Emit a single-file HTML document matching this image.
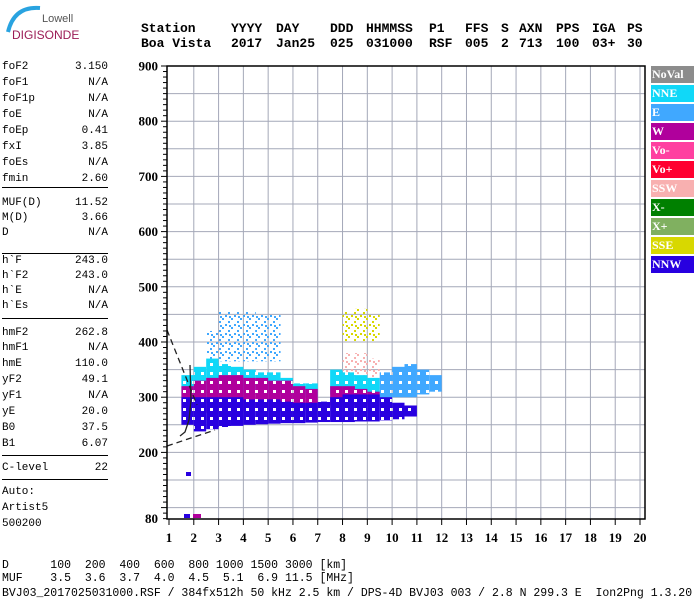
<!DOCTYPE html>
<html><head><meta charset="utf-8"><style>
body{margin:0;width:700px;height:600px;background:#fff;overflow:hidden;position:relative;font-family:"Liberation Mono",monospace;}
.t{position:absolute;white-space:pre;}
.hd{font-weight:bold;font-size:13px;top:21px;}
.hd2{top:36px;}
.lp{position:absolute;left:2px;width:106px;font-size:11px;height:14px;line-height:14px;}
.lp span{position:absolute;right:0;}
.sep{position:absolute;left:2px;width:106px;height:1px;background:#000;}
.bt{position:absolute;left:2px;font-size:11.5px;white-space:pre;line-height:13px;}
.lg{position:absolute;left:651px;width:43px;height:17px;color:#fff;font:bold 12px "Liberation Serif",serif;line-height:17px;padding-left:1px;box-sizing:border-box;}
</style></head><body>
<div>
<svg style="position:absolute;left:0;top:0" width="60" height="50"><path d="M40 8 Q14 6 8 32" stroke="#29a3e0" stroke-width="4" fill="none"/></svg>
<div class="t" style="left:42px;top:13px;font:11px 'Liberation Sans',sans-serif;color:#555">Lowell</div>
<div class="t" style="left:12px;top:28px;font:12px 'Liberation Sans',sans-serif;color:#9b1b55">DIGISONDE</div>
</div>
<div>
<div class="t hd" style="left:141px">Station</div><div class="t hd" style="left:231px">YYYY</div><div class="t hd" style="left:276px">DAY</div><div class="t hd" style="left:330px">DDD</div><div class="t hd" style="left:366px">HHMMSS</div><div class="t hd" style="left:429px">P1</div><div class="t hd" style="left:465px">FFS</div><div class="t hd" style="left:501px">S</div><div class="t hd" style="left:519px">AXN</div><div class="t hd" style="left:556px">PPS</div><div class="t hd" style="left:592px">IGA</div><div class="t hd" style="left:627px">PS</div>
<div class="t hd hd2" style="left:141px">Boa Vista</div><div class="t hd hd2" style="left:231px">2017</div><div class="t hd hd2" style="left:276px">Jan25</div><div class="t hd hd2" style="left:330px">025</div><div class="t hd hd2" style="left:366px">031000</div><div class="t hd hd2" style="left:429px">RSF</div><div class="t hd hd2" style="left:465px">005</div><div class="t hd hd2" style="left:501px">2</div><div class="t hd hd2" style="left:519px">713</div><div class="t hd hd2" style="left:556px">100</div><div class="t hd hd2" style="left:592px">03+</div><div class="t hd hd2" style="left:627px">30</div>
</div>
<div id="left"></div>
<div class="bt" style="top:559px">D      100  200  400  600  800 1000 1500 3000 [km]</div>
<div class="bt" style="top:572px">MUF    3.5  3.6  3.7  4.0  4.5  5.1  6.9 11.5 [MHz]</div>
<div class="bt" style="top:587px">BVJ03_2017025031000.RSF / 384fx512h 50 kHz 2.5 km / DPS-4D BVJ03 003 / 2.8 N 299.3 E  Ion2Png 1.3.20</div>
<div id="legend"></div>
<svg id="chart" style="position:absolute;left:0;top:0" width="700" height="600">
<defs id="defs"></defs>
</svg>
<script>
const params=[["foF2","3.150",67],["foF1","N/A",83],["foF1p","N/A",99],["foE","N/A",115],["foEp","0.41",131],["fxI","3.85",147],["foEs","N/A",163],["fmin","2.60",179],
["MUF(D)","11.52",203],["M(D)","3.66",218],["D","N/A",233],["h`F","243.0",261],["h`F2","243.0",276],["h`E","N/A",291],["h`Es","N/A",306],
["hmF2","262.8",333],["hmF1","N/A",348],["hmE","110.0",364],["yF2","49.1",380],["yF1","N/A",396],["yE","20.0",412],["B0","37.5",428],["B1","6.07",444],
["C-level","22",468],["Auto:","",492],["Artist5","",508],["500200","",524]];
const seps=[187,253,318,455,479];
const L=document.getElementById('left');
params.forEach(p=>{const d=document.createElement('div');d.className='lp';d.style.top=(p[2]-7)+'px';d.textContent=p[0];


if(p[1]){const s=document.createElement('span');s.textContent=p[1];d.appendChild(s);}L.appendChild(d);});
seps.forEach(y=>{const d=document.createElement('div');d.className='sep';d.style.top=y+'px';


L.appendChild(d);});
const legendNames=["NoVal","NNE","E","W","Vo-","Vo+","SSW","X-","X+","SSE","NNW"];
const legendColors=["#8c8c8c","#10d8f8","#40a8ff","#b0009c","#ff40a0","#ff0030","#f8b0b0","#008000","#80b060","#d8d800","#2800e0"];
const LG=document.getElementById('legend');
legendNames.forEach((n,i)=>{const d=document.createElement('div');d.className='lg';d.style.top=(66+i*19)+'px';d.style.background=legendColors[i];d.textContent=n;


LG.appendChild(d);});

// ---- chart data ----
const xTicks=[1,2,3,4,5,6,7,8,9,10,11,12,13,14,15,16,17,18,19,20];
const yTicks=[80,200,300,400,500,600,700,800,900];
const bins=[1.75,2.25,2.75,3.25,3.75,4.25,4.75,5.25,5.75,6.25,6.75,7.25,7.75,8.25,8.75,9.25,9.75,10.25,10.75,11.25,11.75];
const nnwLow =[250,238,242,246,248,250,251,252,253,253,254,255,255,255,256,256,258,260,265,0,0];
const nnwHigh=[300,300,300,300,300,296,296,296,292,290,290,292,300,305,305,305,300,290,285,0,0];
const wLow   =[280,272,272,276,276,276,276,276,276,278,278,0,285,285,285,285,0,0,0,0,0];
const wHigh  =[320,330,335,340,340,335,335,330,330,320,315,0,320,320,315,310,0,0,0,0,0];
const nneLow =[300,300,300,305,305,305,305,305,305,300,300,0,305,305,305,300,0,0,0,0,0];
const nneHigh=[340,355,370,360,355,350,345,345,335,325,325,0,350,345,340,335,0,0,0,0,0];
const eLow   =[0,0,0,0,0,0,0,0,0,0,0,0,0,0,0,0,295,300,300,305,310];
const eHigh  =[0,0,0,0,0,0,0,0,0,0,0,0,0,0,0,0,345,355,360,350,340];
const upLow  =[0,0,360,365,365,365,365,365,0,0,0,0,0,0,0,0,0,0,0,0,0];
const upHigh =[0,0,420,455,455,455,450,450,0,0,0,0,0,0,0,0,0,0,0,0,0];
const sseLow =[0,0,0,0,0,0,0,0,0,0,0,0,0,400,400,400,0,0,0,0,0];
const sseHigh=[0,0,0,0,0,0,0,0,0,0,0,0,0,455,460,450,0,0,0,0,0];
const sswLow =[0,0,0,0,0,0,0,0,0,0,0,0,0,270,265,270,0,0,0,0,0];
const sswHigh=[0,0,0,0,0,0,0,0,0,0,0,0,0,380,380,370,0,0,0,0,0];

const X0=169,XS=24.79,Y0=66,YS=0.552;
const fx=f=>X0+(f-1)*XS;
const hy=h=>Y0+(900-h)*YS;
const svg=document.getElementById('chart');
const defs=document.getElementById('defs');
const NS="http://www.w3.org/2000/svg";
function mk(tag,attrs,name){const e=document.createElementNS(NS,tag);for(const k in attrs)e.setAttribute(k,attrs[k]);


svg.appendChild(e);return e;}
// speckle patterns (texture only)
function pattern(id,color,dense){
  const p=document.createElementNS(NS,'pattern');
  p.setAttribute('id',id);p.setAttribute('width',9);p.setAttribute('height',9);p.setAttribute('patternUnits','userSpaceOnUse');
  const cells=dense?[[0,0],[3,0],[6,3],[0,3],[3,6],[6,6],[0,6],[6,0]]:[[0,0],[6,3],[3,6],[4,1]];
  cells.forEach(c=>{const r=document.createElementNS(NS,'rect');r.setAttribute('x',c[0]);r.setAttribute('y',c[1]);r.setAttribute('width',dense?3:2);r.setAttribute('height',dense?3:2);r.setAttribute('fill',color);p.appendChild(r);});
  defs.appendChild(p);
}
// grid
const grid=document.createElementNS(NS,'g');


svg.appendChild(grid);
for(let f=2;f<=20;f++){const l=document.createElementNS(NS,'line');l.setAttribute('x1',fx(f));l.setAttribute('x2',fx(f));l.setAttribute('y1',hy(900));l.setAttribute('y2',hy(80));l.setAttribute('stroke','#a4a8b8');


grid.appendChild(l);}
for(let h=100;h<900;h+=50){const l=document.createElementNS(NS,'line');l.setAttribute('x1',167);l.setAttribute('x2',645);l.setAttribute('y1',hy(h));l.setAttribute('y2',hy(h));l.setAttribute('stroke','#a4a8b8');


grid.appendChild(l);}
function layer(lo,hi,color,name,dense){
  pattern('p-'+name,color,dense);
  const g=document.createElementNS(NS,'g');
  
  
  svg.appendChild(g);
  bins.forEach((f,i)=>{if(!lo[i]||!hi[i])return;
    const r=document.createElementNS(NS,'rect');
    r.setAttribute('x',fx(f-0.25));r.setAttribute('width',XS*0.5);
    r.setAttribute('y',hy(hi[i]));r.setAttribute('height',hy(lo[i])-hy(hi[i]));
    r.setAttribute('fill','url(#p-'+name+')');
    
    
    g.appendChild(r);});
}
layer(upLow,upHigh,"#40a8ff","upper-echoes",false);
layer(sseLow,sseHigh,"#d8d800","sse-echoes",false);
layer(sswLow,sswHigh,"#f8b0b0","ssw-echoes",false);
layer(nneLow,nneHigh,"#10d8f8","nne-echoes",true);
layer(eLow,eHigh,"#40a8ff","e-echoes",true);
layer(wLow,wHigh,"#b0009c","w-echoes",true);
layer(nnwLow,nnwHigh,"#2800e0","nnw-echoes",true);
mk('polyline',{points:`167,330 197,405`,stroke:'#222','stroke-dasharray':'6,4',fill:'none','stroke-width':1.3},'trace-line-upper');
mk('polyline',{points:`167,446 215,430`,stroke:'#222','stroke-dasharray':'6,4',fill:'none','stroke-width':1.3},'trace-line-lower');
mk('polyline',{points:`190,365 191,400 189,420 185,432 180,436`,stroke:'#222',fill:'none','stroke-width':1.3},'profile-curve');
mk('rect',{x:184,y:514,width:6,height:4,fill:'#2800e0'},'bottom-echo');
mk('rect',{x:193,y:514,width:8,height:4,fill:'#b0009c'},'bottom-echo');
mk('rect',{x:186,y:472,width:5,height:4,fill:'#2800e0'},'low-echo');
mk('rect',{x:167,y:66,width:478,height:453,fill:'none',stroke:'#000','stroke-width':1.5},'plot-frame');
for(let h=80;h<=900;h+=10){const w=(h%100===0)?6:4;mk('line',{x1:167-w,x2:167,y1:hy(h),y2:hy(h),stroke:'#000'},'y-tick');}
yTicks.forEach(h=>{const t=mk('text',{x:158,y:hy(h)+4.5,'text-anchor':'end','font-family':'Liberation Serif,serif','font-weight':'bold','font-size':13},'y-tick-label');t.textContent=h;});
xTicks.forEach(f=>{mk('line',{x1:fx(f),x2:fx(f),y1:519,y2:525,stroke:'#000'},'x-tick');
 const t=mk('text',{x:fx(f),y:542,'text-anchor':'middle','font-family':'Liberation Serif,serif','font-weight':'bold','font-size':13},'x-tick-label');t.textContent=f;});
</script>
</body></html>
